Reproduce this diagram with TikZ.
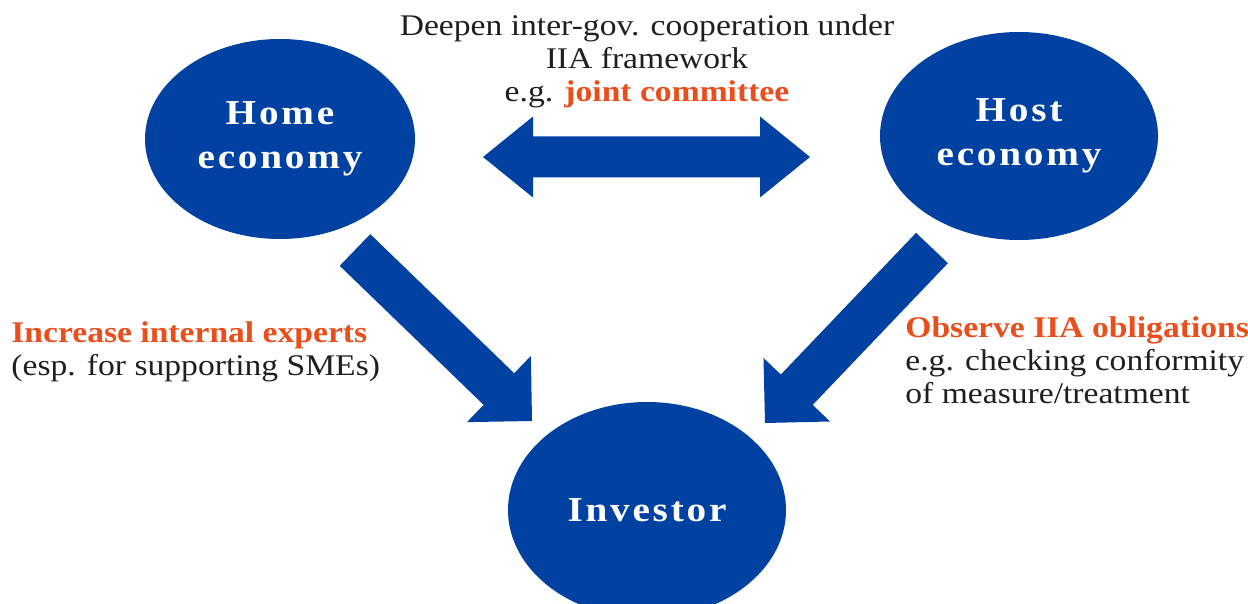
\documentclass[tikz,border=0pt]{standalone}
\usepackage{fontspec}
\setmainfont{Liberation Serif}[FakeStretch=1.12]
\newfontfamily\labelfont{Liberation Serif}[FakeStretch=1.12, LetterSpace=8]
\usetikzlibrary{shapes.geometric, calc}
\definecolor{ecblue}{HTML}{0041A2}
\definecolor{ecorange}{HTML}{E94E1B}
\definecolor{ectext}{HTML}{1F1F1F}

% filled block arrow: tail, tip, shaft half width, head half width, head length
\newcommand{\blockarrow}[5]{%
  \coordinate (#1-base) at ($(#2)!#5!(#1)$);
  \fill[ecblue] ($(#1)!#3!90:(#2)$) -- ($(#1-base)!#3!90:(#2)$) -- ($(#1-base)!#4!90:(#2)$) -- (#2)
    -- ($(#1-base)!#4!-90:(#2)$) -- ($(#1-base)!#3!-90:(#2)$) -- ($(#1)!#3!-90:(#2)$) -- cycle;}
% filled double arrow: left tip, right tip, shaft half width, head half width, head length
\newcommand{\twowayarrow}[5]{%
  \coordinate (#1-base) at ($(#1)!#5!(#2)$);
  \coordinate (#2-base) at ($(#2)!#5!(#1)$);
  \fill[ecblue] (#1) -- ($(#1-base)!#4!90:(#2)$) -- ($(#1-base)!#3!90:(#2)$) -- ($(#2-base)!#3!-90:(#1)$)
    -- ($(#2-base)!#4!-90:(#1)$) -- (#2) -- ($(#2-base)!#4!90:(#1)$) -- ($(#2-base)!#3!90:(#1)$)
    -- ($(#1-base)!#3!-90:(#2)$) -- ($(#1-base)!#4!-90:(#2)$) -- cycle;}

\begin{document}
\begin{tikzpicture}[
  x=0.5pt, y=-0.5pt,
  every node/.style={inner sep=0pt},
  party/.style={ellipse, fill=ecblue, text=white, align=center, minimum width=135pt, minimum height=100pt,
    font=\labelfont\bfseries\fontsize{17.5}{22}\selectfont},
  note/.style={text=ectext, font=\fontsize{15}{16.5}\selectfont}
]
\useasboundingbox (0,0) rectangle (1248,604);

\node[party] (home) at (280,139) {Home\\economy};
\node[party, minimum width=139pt, minimum height=104pt] (host) at (1019,136) {Host\\economy};
\node[party, minimum width=139pt, minimum height=108pt] (inv) at (647,510) {Investor};

\node[note, align=center, anchor=north] (coop) at (647,14)
  {Deepen inter-gov. cooperation under\\IIA framework\\e.g. {\bfseries\color{ecorange}joint committee}};
\node[note, align=left, anchor=north west] (experts) at (11,321)
  {{\bfseries\color{ecorange}Increase internal experts}\\(esp. for supporting SMEs)};
\node[note, align=left, anchor=north west] (oblig) at (905,316)
  {{\bfseries\color{ecorange}Observe IIA obligations}\\e.g. checking conformity\\of measure/treatment};

\coordinate (coop-l) at (483,157);
\coordinate (coop-r) at (810,157);
\coordinate (home-out) at (355,250);
\coordinate (inv-l) at (532,421);
\coordinate (host-out) at (932,248);
\coordinate (inv-r) at (765,423);

\twowayarrow{coop-l}{coop-r}{10.25pt}{20.25pt}{25pt}
\blockarrow{home-out}{inv-l}{11pt}{23pt}{23pt}
\blockarrow{host-out}{inv-r}{11pt}{23pt}{23pt}

\end{tikzpicture}
\end{document}
